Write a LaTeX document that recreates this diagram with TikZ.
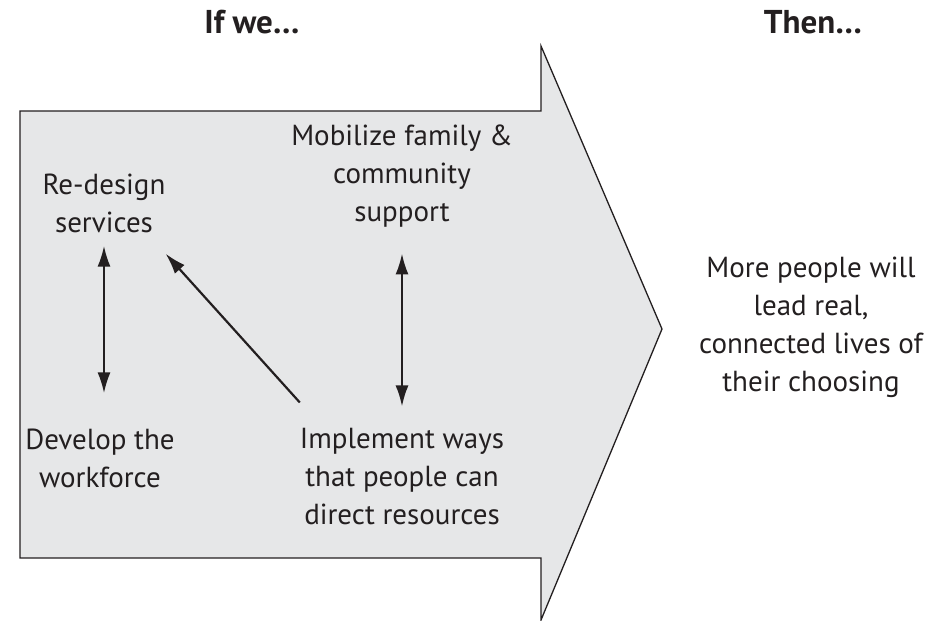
\documentclass[tikz,border=0pt]{standalone}
\usepackage{fontspec}
\setmainfont{PT Sans}
\usepackage{tikz}
\usetikzlibrary{arrows.meta}
\definecolor{panelgray}{HTML}{E6E7E8}
\definecolor{ink}{HTML}{231F20}

\begin{document}
\begin{tikzpicture}[x=1pt,y=-1pt,
  every node/.append style={text=ink,inner sep=0pt,align=center,font=\fontsize{29}{38}\selectfont},
  heading/.style={font=\fontsize{33}{38}\selectfont\bfseries},
  tip/.tip={Latex[length=21pt,width=13pt]},
  link/.style={draw=ink,line width=2.2pt,-tip},
  twoway/.style={link,tip-tip}]
\useasboundingbox (0,0) rectangle (943,621);
% big arrow
\draw[fill=panelgray,draw=ink,line width=1.3pt]
  (20,111) -- (541,111) -- (541,46) -- (662,329) -- (541,620) -- (541,558) -- (20,558) -- cycle;
% headings
\node[heading] (ifwe) at (252,22) {If we\dots};
\node[heading] (then) at (813,22) {Then\dots};
% steps
\node (redesign) at (104,203) {Re-design\\services};
\node (mobilize) at (402,176) {Mobilize family \&\\community\\support};
\node (develop) at (100,458) {Develop the\\workforce};
\node (implement) at (402,477) {Implement ways\\that people can\\direct resources};
\node (outcome) at (811,327) {More people will\\lead real,\\connected lives of\\their choosing};
% links
\draw[twoway] ([yshift=-13pt]redesign.south) -- ([yshift=35pt]redesign.south |- develop.north);
\draw[twoway] ([yshift=-26pt]mobilize.south) -- ([yshift=22pt]implement.north);
\draw[link] ([yshift=26pt]implement.north west) -- ([yshift=-21pt]redesign.south east);
\end{tikzpicture}
\end{document}
